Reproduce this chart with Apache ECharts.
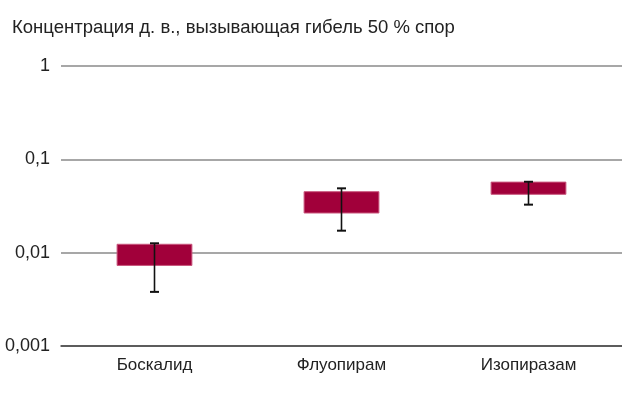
<!DOCTYPE html>
<html>
<head>
<meta charset="utf-8">
<script src="https://cdn.jsdelivr.net/npm/echarts@6/dist/echarts.min.js"></script>
<style>
  html, body { margin: 0; padding: 0; background: #fff; }
  #chart { width: 622px; height: 415px; }
</style>
</head>
<body>
<div id="chart"></div>
<script>
// categories and values
const categories = ['Боскалид', 'Флуопирам', 'Изопиразам'];
const boxLow = [0.0073, 0.0266, 0.0422];
const boxHigh = [0.0123, 0.045, 0.057];
const errLow = [0.0038, 0.0172, 0.0327];
const errHigh = [0.0126, 0.0489, 0.0575];
const tickLabels = { 0.001: '0,001', 0.01: '0,01', 0.1: '0,1', 1: '1' };

const chart = echarts.init(document.getElementById('chart'));

const seriesData = categories.map((c, i) => [i, boxLow[i], boxHigh[i], errLow[i], errHigh[i]]);

const renderBox = (params, api) => {
  const i = api.value(0);
  const pLow = api.coord([i, api.value(1)]);
  const pHigh = api.coord([i, api.value(2)]);
  const eLow = api.coord([i, api.value(3)]);
  const eHigh = api.coord([i, api.value(4)]);
  const bandW = api.size([1, 0])[0];
  const w = bandW * 0.4;
  const cap = 4.5;
  const x = pLow[0];
  return {
    type: 'group',
    children: [
      {
        type: 'rect',
        shape: { x: x - w / 2, y: pHigh[1], width: w, height: pLow[1] - pHigh[1] },
        style: { fill: '#a1003a', stroke: '#c9567d', lineWidth: 1 }
      },
      {
        type: 'line',
        shape: { x1: x, y1: eLow[1], x2: x, y2: eHigh[1] },
        style: { stroke: '#111', lineWidth: 1.6 }
      },
      {
        type: 'line',
        shape: { x1: x - cap, y1: eHigh[1], x2: x + cap, y2: eHigh[1] },
        style: { stroke: '#111', lineWidth: 2 }
      },
      {
        type: 'line',
        shape: { x1: x - cap, y1: eLow[1], x2: x + cap, y2: eLow[1] },
        style: { stroke: '#111', lineWidth: 2 }
      }
    ]
  };
};

const option = {
  animation: false,
  title: {
    text: 'Концентрация д. в., вызывающая гибель 50 % спор',
    left: 7,
    top: 13,
    textStyle: {
      fontFamily: 'Liberation Sans',
      fontSize: 18.5,
      fontWeight: 'normal',
      color: '#222'
    }
  },
  grid: { left: 61, right: 0, top: 66, bottom: 69 },
  xAxis: {
    type: 'category',
    data: categories,
    axisTick: { show: false },
    axisLine: { show: true, lineStyle: { color: '#444', width: 1.5 } },
    axisLabel: {
      margin: 11,
      fontFamily: 'Liberation Sans',
      fontSize: 17,
      color: '#222'
    }
  },
  yAxis: {
    type: 'log',
    logBase: 10,
    min: 0.001,
    max: 1,
    axisLine: { show: false },
    axisTick: { show: false },
    splitLine: { lineStyle: { color: '#8a8a8a', width: 1.5 } },
    axisLabel: {
      margin: 11,
      fontFamily: 'Liberation Sans',
      fontSize: 18,
      color: '#222',
      formatter: (v) => {
        const key = Object.keys(tickLabels).find(k => Math.abs(Math.log10(k) - Math.log10(v)) < 1e-6);
        return key ? tickLabels[key] : '';
      }
    }
  },
  series: [{
    type: 'custom',
    renderItem: renderBox,
    encode: { x: 0, y: [1, 2, 3, 4] },
    data: seriesData
  }]
};

chart.setOption(option);
</script>
</body>
</html>
